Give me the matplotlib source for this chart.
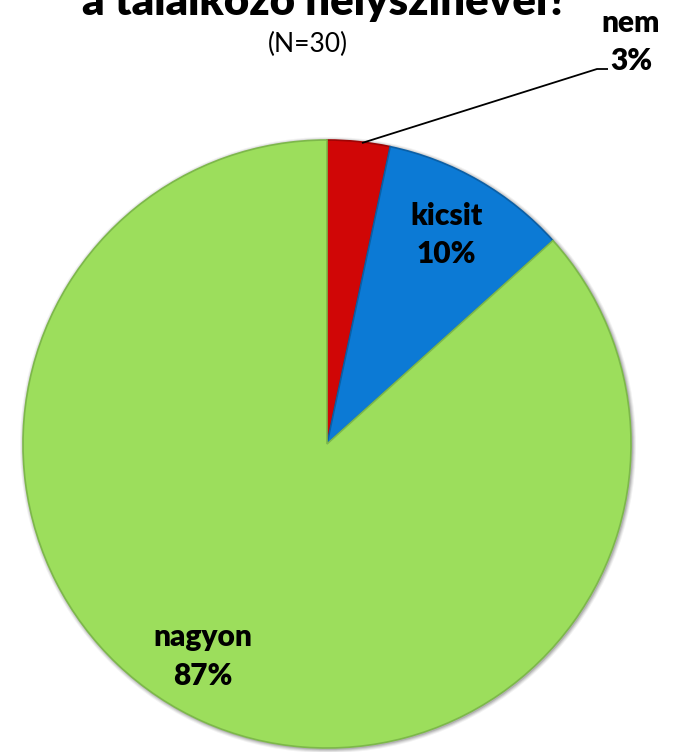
import matplotlib
matplotlib.use("Agg")
import matplotlib.pyplot as plt
from matplotlib.patches import Circle

# Data
categories = ["nem", "kicsit", "nagyon"]
counts = [1, 3, 26]
percent_labels = ["3%", "10%", "87%"]
colors = ["#D00606", "#0C7AD5", "#9CDE5C"]
edge_colors = ["#9E0404", "#0A5FA6", "#7DB84A"]
title_line = "a találkozó helyszínével?"
subtitle = "(N=30)"

W, H = 674, 752
fig = plt.figure(figsize=(W / 100, H / 100), dpi=100)
ax = fig.add_axes([0, 0, 1, 1])

cx, cy, r = 327, H - 444, 304

# soft shadow around the pie
for k, a in [(4, 0.05), (3, 0.07), (2, 0.09), (1, 0.12)]:
    ax.add_patch(Circle((cx + 1, cy - 1), r + k, facecolor="black",
                        edgecolor="none", alpha=a, zorder=0))

wedges, _ = ax.pie(counts, colors=colors, startangle=90, counterclock=False,
                   center=(cx, cy), radius=r, frame=True,
                   wedgeprops=dict(linewidth=1.2, zorder=1))
for w, ec in zip(wedges, edge_colors):
    w.set_edgecolor(ec)

ax.set_xlim(0, W)
ax.set_ylim(0, H)
ax.set_aspect("equal")
ax.axis("off")

font = ["Lato", "DejaVu Sans"]

fig.text(325 / W, 1 - 15 / H, title_line, ha="center", va="baseline",
         fontsize=31.5, fontweight="heavy", family=font)
fig.text(308 / W, 1 - 44 / H, subtitle, ha="center", va="center",
         fontsize=19, family=font)

label_pos = [(631, 23, 61), (446, 216, 254), (203, 637, 676)]
for cat, pl, (x, y1, y2) in zip(categories, percent_labels, label_pos):
    ax.text(x, H - y1, cat, ha="center", va="center", fontsize=21.5,
            fontweight="heavy", family=font, zorder=5)
    ax.text(x, H - y2, pl, ha="center", va="center", fontsize=21.5,
            fontweight="heavy", family=font, zorder=5)

# leader line for "nem"
ax.plot([362, 597, 608], [H - 143, H - 69, H - 69], color="black", lw=1.3,
        solid_capstyle="butt", zorder=4)

fig.savefig("out.png", dpi=100)
